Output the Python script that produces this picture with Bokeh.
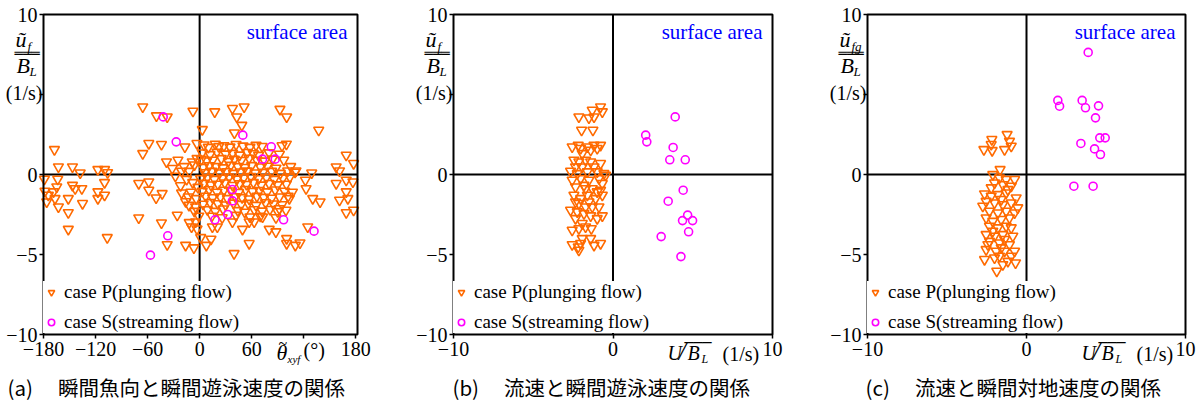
from bokeh.plotting import figure
from bokeh.layouts import row
from bokeh.models import Label, Legend, LegendItem, FixedTicker, BoxAnnotation
from bokeh.embed import file_html
from bokeh.resources import INLINE

# ---------------- data ----------------
# panel (a): instantaneous heading angle (deg) vs swimming speed (1/s)
a_case_p = [
    (-65.6, 4.23), (-49.8, 3.67), (-37.4, 3.6), (-7.7, 3.96), (17.4, 3.92), (37.8, 4.13), (42.8, 3.6),
    (51.3, 4.23), (92.6, 4.08), (100.3, 3.6), (48.6, 3.08), (3.1, 2.81), (40.1, 2.6), (137.3, 2.77),
    (-167.4, 1.56), (-58.6, 1.94), (-44, 1.88), (-65.6, 1.31), (-17, 1.73), (-3.1, 1.94), (-38.2, 0.79),
    (-31.6, 0.38), (-20.8, 0.21), (-8.5, 0.79), (-162.8, 0.48), (-146.6, 0.48), (-137.7, 0.1),
    (-117.3, 0.31), (-109.6, 0.31), (-106.1, 0.12), (169, 1.21), (177.5, 0.69), (157.4, 0.48),
    (161.3, 0.23), (129.2, 0.1), (111.1, 0.23), (101.5, 0.23),
    (-179, -0.29), (-178.3, -1.04), (-174.4, -1.29), (-164.7, -0.77), (-163.6, -0.29), (-168.6, -1.08),
    (-166.7, -1.5), (-162.8, -2.02), (-176.3, -1.71), (-151.4, -1.5), (-151.4, -2.38), (-151.4, -3.42),
    (-146.6, -0.67), (-143.5, -0.88), (-135.8, -0.88), (-135, -1.81), (-117.3, -1.08), (-117.3, -1.5),
    (-109.6, -1.29), (-109.6, -0.5), (-106.5, -3.94), (-70.2, -0.56), (-70.2, -2.71), (-58.6, -0.46),
    (-58.6, -0.98), (-50.2, -1.46), (-43.2, -1.19), (-44, -3.02), (-37.4, -4.38), (-25.8, -2.54),
    (-20.8, -1.15), (-16.2, -4.42), (-13.1, -1.4), (-9.3, -3.27), (-4.6, -2.96), (-6.6, -4.58),
    (1.2, -3.94), (7.7, -4.42), (13.1, -4.04), (14.7, -3.27), (20.4, -3.27), (39.7, -4.94), (37.8, -2.96),
    (49.4, -3.42), (57.1, -4.31), (57.1, -2.96), (62.9, -2.96), (72.5, -2.65), (80.2, -3.42), (87.9, -3.58),
    (100.3, -4.0), (100.3, -4.31), (110.3, -4.42), (115.7, -4.27), (124.6, -3.27), (121.9, -0.35),
    (122.7, -0.88), (130.4, -1.5), (138.9, -1.71), (157.4, -0.56), (161.3, -1.6), (169, -0.35),
    (169, -1.08), (170.9, -1.5), (169, -2.38), (177.5, -2.23), (176.7, -0.46), (103.4, -1.5),
    (99.5, -2.23), (91.8, -2.13), (-12.3, -1.92), (-4.6, -2.02),
    (-25, 0.9), (-18, 0.5), (-12, 0.2), (-6, 0.6), (-3, 1.0), (-15, -0.3), (-8, -0.5), (-2, -0.8),
    (-22, -0.7), (-10, -1.1), (-4, -1.5), (-16, -1.7), (-28, -0.1), (-6, -2.3), (-1, -2.6), (-12, -3.0),
    (-3, -3.4),
    (5, 1.85), (10, 1.7), (18, 1.9), (22, 1.75), (28, 1.8), (35, 1.72), (42, 1.88), (50, 1.78), (58, 1.7),
    (65, 1.83), (72, 1.76), (95, 1.8), (100, 1.9),
    (3, 1.35), (12, 1.25), (20, 1.4), (30, 1.28), (38, 1.33), (46, 1.22), (55, 1.38), (62, 1.3), (68, 1.2),
    (80, 1.36), (92, 1.27),
    (2, 0.95), (8, 0.85), (15, 0.9), (25, 1.0), (33, 0.82), (40, 0.95), (48, 0.88), (57, 1.02), (66, 0.9),
    (75, 0.84), (84, 0.97), (97, 0.9),
    (4, 0.45), (11, 0.55), (19, 0.5), (27, 0.42), (36, 0.58), (44, 0.5), (52, 0.44), (60, 0.56), (70, 0.48),
    (78, 0.52), (88, 0.4), (105, 0.5),
    (6, 0.12), (14, 0.2), (23, 0.1), (31, 0.18), (39, 0.08), (47, 0.16), (55, 0.22), (64, 0.1), (73, 0.14),
    (83, 0.2), (93, 0.08), (110, 0.15),
    (1, -0.25), (9, -0.18), (17, -0.3), (26, -0.22), (34, -0.15), (43, -0.28), (51, -0.2), (59, -0.12),
    (68, -0.26), (77, -0.18), (86, -0.3), (96, -0.22), (104, -0.16),
    (5, -0.55), (13, -0.65), (21, -0.6), (29, -0.52), (38, -0.68), (46, -0.58), (54, -0.62), (62, -0.5),
    (71, -0.66), (80, -0.56), (90, -0.64), (100, -0.6),
    (3, -1.05), (11, -0.95), (20, -1.1), (28, -0.98), (36, -1.02), (45, -1.12), (53, -0.94), (61, -1.06),
    (69, -1.0), (78, -1.08), (87, -0.96), (98, -1.04), (107, -1.1),
    (7, -1.35), (15, -1.45), (24, -1.4), (32, -1.5), (41, -1.38), (49, -1.44), (57, -1.52), (66, -1.36),
    (74, -1.42), (83, -1.48), (92, -1.4), (102, -1.35),
    (4, -1.85), (12, -1.75), (21, -1.82), (30, -1.9), (39, -1.78), (48, -1.86), (56, -1.8), (65, -1.92),
    (76, -1.76), (85, -1.84), (95, -1.88),
    (9, -2.2), (18, -2.3), (27, -2.15), (44, -2.25), (52, -2.35), (63, -2.2), (72, -2.28), (81, -2.18),
    (90, -2.32),
    (14, -2.6), (26, -2.7), (42, -2.55), (58, -2.65), (70, -2.6), (88, -2.7),
]
a_case_s = [
    (-42, 3.6), (-27, 2.04), (49.8, 2.46), (82.6, 1.73), (72.5, 0.96), (87.2, 0.96), (37.8, -0.94),
    (37.8, -1.65), (32.4, -2.5), (17.7, -2.83), (96.8, -2.83), (131.9, -3.54), (-36.7, -3.83), (-56.7, -5.04),
]

# panel (b): flow velocity U/sqrt(B_L) vs swimming speed
b_case_p = [
    (-0.78, 4.23), (-0.67, 3.92), (-1.3, 4.02), (-1.19, 3.6), (-2.14, 3.6), (-1.51, 3.54), (-1.97, 2.77),
    (-1.26, 2.77), (-2.56, 1.73), (-2.18, 1.83), (-2.03, 1.63), (-1.61, 1.73), (-1.19, 1.83), (-0.78, 1.83),
    (-0.99, 1.63), (-1.93, 1.31), (-1.4, 1.52), (-2.45, 0.9), (-2.14, 0.79), (-1.72, 0.9), (-1.4, 0.79),
    (-0.78, 0.69), (-1.93, 0.48), (-1.19, 0.48), (-2.66, 0.21), (-1.61, 0.17), (-0.57, 0.06), (-0.99, 0.17),
    (-2.24, 0.06), (-2.56, -0.35), (-2.03, -0.25), (-1.51, -0.35), (-0.88, -0.25), (-0.67, -0.56),
    (-2.35, -0.77), (-1.82, -0.67), (-1.3, -0.88), (-0.78, -0.98), (-2.45, -1.29), (-2.03, -1.5),
    (-1.61, -1.29), (-1.09, -1.5), (-0.67, -1.29), (-2.14, -1.81), (-1.51, -1.71), (-0.88, -2.02),
    (-2.66, -2.23), (-2.24, -2.33), (-1.82, -2.44), (-1.4, -2.58), (-0.67, -2.58), (-1.93, -3.06),
    (-1.72, -3.27), (-2.14, -3.38), (-2.56, -3.48), (-1.36, -3.38), (-1.93, -4.0), (-1.4, -4.0),
    (-2.56, -4.38), (-2.18, -4.52), (-2.03, -4.31), (-1.19, -4.42), (-0.78, -4.31), (-2.14, -4.73),
    (-2.35, 0.48), (-0.46, -0.04), (-1.72, -0.88), (-0.99, -1.08), (-2.35, -1.71), (-1.3, -2.02),
    (-1.72, -2.02), (-0.99, -2.75), (-2.35, -2.75),
]
b_case_s = [
    (3.9, 3.6), (2.05, 2.46), (2.12, 2.04), (3.77, 1.69), (3.56, 0.92), (4.53, 0.92), (4.4, -0.98),
    (3.46, -1.67), (4.68, -2.54), (4.36, -2.88), (4.99, -2.88), (4.74, -3.58), (3.02, -3.88), (4.26, -5.13),
]

# panel (c): flow velocity vs ground speed
c_case_p = [
    (-1.22, 2.5), (-2.18, 2.19), (-1.07, 2.08), (-2.22, 1.88), (-0.96, 1.77), (-2.68, 1.56), (-2.16, 1.5),
    (-1.38, 1.56), (-1.66, 0.31),
    (-2.12, 0.0), (-1.7, -0.21), (-1.28, -0.31), (-0.75, -0.31), (-2.01, -0.52), (-1.49, -0.63),
    (-0.96, -0.73), (-2.64, -1.21), (-2.22, -1.35), (-1.8, -1.25), (-1.28, -1.15), (-0.65, -1.46),
    (-2.54, -1.67), (-2.01, -1.77), (-1.49, -1.88), (-0.96, -1.77), (-0.55, -2.08), (-2.75, -1.98),
    (-2.33, -2.29), (-1.8, -2.4), (-1.28, -2.29), (-0.75, -2.4), (-2.54, -2.71), (-2.12, -2.92),
    (-1.59, -2.81), (-1.07, -2.71), (-2.33, -3.23), (-1.8, -3.33), (-1.28, -3.23), (-2.54, -3.75),
    (-2.01, -3.85), (-1.49, -3.75), (-0.86, -3.85), (-2.33, -4.17), (-1.7, -4.27), (-1.07, -4.38),
    (-2.54, -4.69), (-1.91, -4.79), (-1.38, -4.79), (-0.75, -4.79), (-2.64, -5.31), (-2.01, -5.21),
    (-1.49, -5.63), (-1.17, -5.42), (-0.69, -5.52), (-1.87, -6.04), (-1.7, -5.1), (-2.22, -0.83),
    (-1.17, -0.94), (-1.59, -1.56), (-2.12, -3.54), (-1.38, -4.06), (-0.96, -3.33), (-2.43, -4.38),
    (-1.59, -4.58), (-0.96, -5.1),
]
c_case_s = [
    (3.88, 7.63), (1.97, 4.63), (2.08, 4.27), (3.5, 4.63), (3.71, 4.17), (4.53, 4.29), (4.34, 3.54),
    (3.42, 1.94), (4.61, 2.29), (4.95, 2.29), (4.28, 1.6), (4.65, 1.25), (2.98, -0.73), (4.19, -0.73),
]

x_lim_a = (-180, 182)
x_lim_bc = (-10, 10)
y_lim = (-10, 10)
x_ticks_a = [-180, -120, -60, 0, 60, 120, 180]
x_ticks_bc = [-10, 0, 10]
y_ticks = [-10, -5, 0, 5, 10]
legend_labels = ["case P(plunging flow)", "case S(streaming flow)"]
captions = ["(a)\u3000 瞬間魚向と瞬間遊泳速度の関係",
            "(b)\u3000 流速と瞬間遊泳速度の関係",
            "(c)\u3000 流速と瞬間対地速度の関係"]
area_label = "surface area"
y_subs = ["f", "f", "fg"]

# ---------------- style / geometry ----------------
ORANGE = "#FF6A00"
MAGENTA = "#FF00FF"
SERIF = "Liberation Serif"
CJK = "Noto Sans CJK JP"
H = 403
BOX_TOP, BOX_BOTTOM = 14, 334     # pixel rows of the plotting box


def panel(cl, width, bl, br, xlim, xticks, xover, p_data, s_data, caption, ysub, kind):
    x0, x1 = xlim
    y0, y1 = y_lim
    kx = (br - bl) / (x1 - x0)
    ky = (BOX_BOTTOM - BOX_TOP) / (y1 - y0)
    xr = (x0 - (bl - cl) / kx, x1 + (cl + width - br) / kx)
    yr = (y0 - (H - BOX_BOTTOM) / ky, y1 + BOX_TOP / ky)

    p = figure(width=width, height=H, x_range=xr, y_range=yr,
               output_backend="svg", toolbar_location=None,
               min_border=0, min_border_left=0, min_border_right=0,
               min_border_top=0, min_border_bottom=0,
               background_fill_color="white", border_fill_color="white")
    p.grid.visible = False
    p.outline_line_color = None
    p.xaxis.fixed_location = y0
    p.yaxis.fixed_location = x0
    p.xaxis.ticker = FixedTicker(ticks=xticks, minor_ticks=[])
    p.yaxis.ticker = FixedTicker(ticks=y_ticks, minor_ticks=[])
    p.xaxis.major_label_overrides = xover
    p.yaxis.major_label_overrides = {5: ""}
    for ax in (p.xaxis, p.yaxis):
        ax.axis_line_color = None
        ax.major_tick_in = 0
        ax.major_tick_out = 4
        ax.major_tick_line_color = "black"
        ax.major_tick_line_width = 1.5
        ax.major_label_text_font = SERIF
        ax.major_label_text_font_size = "20px"
        ax.major_label_text_color = "black"
    p.xaxis.major_label_standoff = 3
    p.yaxis.major_label_standoff = 2

    # zero cross lines (spanning the plotting box)
    p.segment(x0=[0, x0], y0=[y0, 0], x1=[0, x1], y1=[y1, 0], line_color="black", line_width=2)

    rp = p.scatter([v[0] for v in p_data], [v[1] for v in p_data], marker="inverted_triangle",
                   size=10, fill_color=None, line_color=ORANGE, line_width=1.6)
    rs = p.scatter([v[0] for v in s_data], [v[1] for v in s_data], marker="circle",
                   size=8, fill_color=None, line_color=MAGENTA, line_width=1.6)
    leg = Legend(items=[LegendItem(label=legend_labels[0], renderers=[rp]),
                        LegendItem(label=legend_labels[1], renderers=[rs])],
                 location=(bl - cl, H - BOX_BOTTOM + 1), margin=0, padding=3, spacing=8,
                 glyph_width=16, glyph_height=16, label_standoff=5,
                 label_text_font=SERIF, label_text_font_size="19px", label_text_color="black",
                 border_line_color=None, background_fill_color="white", background_fill_alpha=1.0)
    p.add_layout(leg)
    p.add_layout(BoxAnnotation(left=x0, right=x1, bottom=y0, top=y1, fill_alpha=0,
                               fill_color=None, line_color="black", line_width=2, line_alpha=1))

    def lab(px, py, text, size, font=SERIF, style="normal", align="left", color="black"):
        p.add_layout(Label(x=px - cl, y=H - py, x_units="screen", y_units="screen",
                           text=text, text_font=font, text_font_size=f"{size}px",
                           text_font_style=style, text_align=align, text_baseline="middle",
                           text_color=color))

    # y-axis title block
    lab(bl - 28, 39, "ũ", 22, style="italic")
    lab(bl - 16, 46, ysub, 13, style="italic")
    lab(bl - 29, 52, "═══", 14, font="DejaVu Sans Mono")
    lab(bl - 27, 65, "B", 22, style="italic")
    lab(bl - 14, 71, "L", 13, style="italic")
    lab(bl - 1, 92, "(1/s)", 20, align="right")
    # surface area
    lab(br - 10, 31, area_label, 21, color="#0000FF", align="right")
    # x-axis title
    if kind == "a":
        lab(278, 343, "~", 16)
        lab(276, 352, "θ", 22, style="italic")
        lab(287, 358, "xyf", 11, style="italic")
        lab(303, 349, "(°)", 20)
    else:
        lab(bl + 214, 352, "U", 20, style="italic")
        lab(bl + 225, 351, "/", 26, style="italic")
        lab(bl + 231, 342, "───", 15, font="DejaVu Sans Mono")
        lab(bl + 234, 352, "B", 20, style="italic")
        lab(bl + 248, 358, "L", 12, style="italic")
        lab(bl + 269, 353, "(1/s)", 20)
    # caption
    cap_x = {"a": 7, "b": 452, "c": 865}[kind]
    lab(cap_x, 386, caption, 20.5, font=CJK)
    return p


pa = panel(0, 400, 43, 357, x_lim_a, x_ticks_a, {120: ""}, a_case_p, a_case_s, captions[0], y_subs[0], "a")
pb = panel(400, 400, 453, 772, x_lim_bc, x_ticks_bc, {}, b_case_p, b_case_s, captions[1], y_subs[1], "b")
pc = panel(800, 404, 867, 1185, x_lim_bc, x_ticks_bc, {}, c_case_p, c_case_s, captions[2], y_subs[2], "c")

layout = row(pa, pb, pc)
open("out.html", "w").write(file_html(layout, INLINE))
